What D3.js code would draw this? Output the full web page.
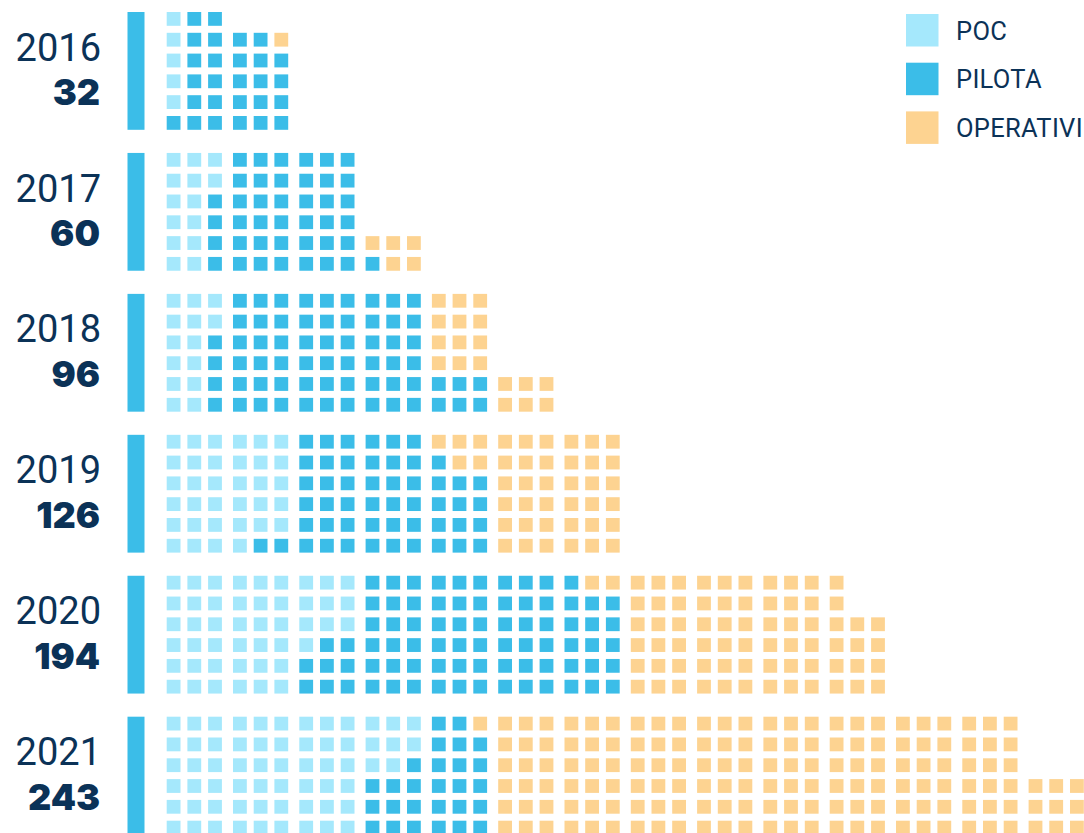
<!DOCTYPE html>
<html>
<head>
<meta charset="utf-8">
<script src="https://cdn.jsdelivr.net/npm/d3@7"></script>
<style>
  html, body { margin: 0; padding: 0; background: #ffffff; }
  svg { display: block; }
</style>
</head>
<body>
<div id="chart"></div>
<script>
// ---- data ----
const years = ["2016", "2017", "2018", "2019", "2020", "2021"];
const totals = [32, 60, 96, 126, 194, 243];
const categories = ["POC", "PILOTA", "OPERATIVI"];
const colors = ["#a5e8fc", "#3bbde8", "#fdd391"];

// For each year, six rows (top to bottom); each row = [POC, PILOTA, OPERATIVI] square counts
const rows2016 = [[1, 2, 0], [1, 4, 1], [1, 5, 0], [1, 5, 0], [1, 5, 0], [0, 6, 0]];
const rows2017 = [[3, 6, 0], [3, 6, 0], [2, 7, 0], [2, 7, 0], [2, 7, 3], [2, 8, 2]];
const rows2018 = [[3, 9, 3], [3, 9, 3], [2, 10, 3], [2, 10, 3], [2, 13, 3], [2, 13, 3]];
const rows2019 = [[6, 6, 9], [6, 7, 8], [6, 9, 6], [6, 9, 6], [6, 9, 6], [4, 11, 6]];
const rows2020 = [[9, 10, 12], [9, 12, 10], [9, 12, 12], [7, 14, 12], [6, 15, 12], [6, 15, 12]];
const rows2021 = [[12, 2, 25], [12, 3, 24], [11, 4, 24], [9, 6, 27], [9, 6, 27], [9, 6, 27]];
const yearRows = [rows2016, rows2017, rows2018, rows2019, rows2020, rows2021];

// ---- layout ----
const W = 1084, H = 833;
const navy = "#0b3257";
const sq = 13.8;

const svg = d3.select("#chart").append("svg")
  .attr("width", W).attr("height", H);

const yYear = d3.scalePoint().domain(years).range([12, 716.7]);
const yRow = d3.scaleLinear().domain([0, 5]).range([0, 104]);
const xBlock = d3.scaleLinear().domain([0, 13]).range([166.7, 166.7 + 13 * 66.3]);
const xCol = d3.scaleLinear().domain([0, 2]).range([0, 41.4]);
const color = d3.scaleOrdinal().domain(categories).range(colors);

const cellX = i => xBlock(Math.floor(i / 3)) + xCol(i % 3);

years.forEach((yr, k) => {
  const top = yYear(yr);
  const g = svg.append("g").attr("class", "year");

  const cells = [];
  yearRows[k].forEach((row, r) => {
    let c = 0;
    row.forEach((n, ci) => {
      for (let j = 0; j < n; j++) {
        cells.push({ row: r, col: c, cat: categories[ci] });
        c++;
      }
    });
  });

  g.append("text")
    .attr("x", 101).attr("y", top + 48.6)
    .attr("text-anchor", "end")
    .attr("font-family", "Roboto, sans-serif")
    .attr("font-weight", 400)
    .attr("font-size", 38)
    .attr("fill", navy)
    .text(yr);

  g.append("text")
    .attr("x", 100).attr("y", top + 93.3)
    .attr("text-anchor", "end")
    .attr("font-family", "Inter, Lato, sans-serif")
    .attr("font-weight", 900)
    .attr("font-size", 36)
    .attr("fill", navy)
    .text(totals[k]);

  g.append("rect")
    .attr("x", 127.5).attr("y", top)
    .attr("width", 17).attr("height", yRow(5) + sq)
    .attr("fill", colors[1]);

  g.selectAll("rect.cell").data(cells).join("rect")
    .attr("class", "cell")
    .attr("x", d => cellX(d.col))
    .attr("y", d => top + yRow(d.row))
    .attr("width", sq).attr("height", sq)
    .attr("fill", d => color(d.cat));
});

// legend
const lg = svg.append("g").attr("class", "legend");
const yLeg = d3.scaleLinear().domain([0, 2]).range([14, 111.4]);
categories.forEach((c, i) => {
  lg.append("rect")
    .attr("x", 906).attr("y", yLeg(i))
    .attr("width", 32.5).attr("height", 32.5)
    .attr("fill", color(c));
  lg.append("text")
    .attr("x", 956).attr("y", yLeg(i) + 25.5)
    .attr("font-family", "Roboto, sans-serif")
    .attr("font-size", 25.5)
    .attr("letter-spacing", 0.3)
    .attr("fill", navy)
    .text(c);
});
</script>
</body>
</html>
